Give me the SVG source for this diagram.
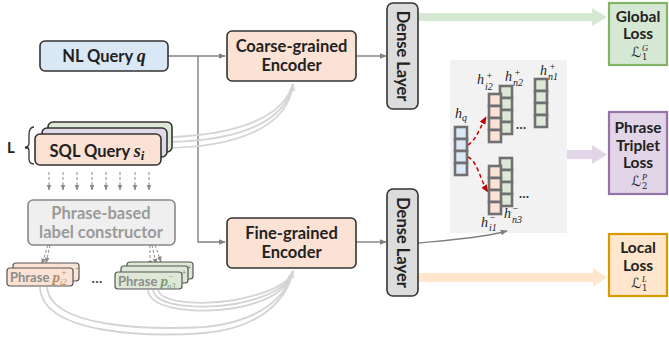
<svg xmlns="http://www.w3.org/2000/svg" width="669" height="339" viewBox="0 0 669 339">
<defs>
<style>
.box{stroke:#333;stroke-width:1.6}
.t{font-family:Lato,"Liberation Sans",sans-serif;font-weight:bold;fill:#222;text-anchor:middle}
.m{font-family:"Liberation Serif","DejaVu Serif",serif;font-style:italic}
.cal{font-family:"DejaVu Serif","DejaVu Sans",serif;fill:#222}
.cell{stroke:#707070;stroke-width:2.6}
.conn{fill:none;stroke:#808080;stroke-width:1.4}
.lg{fill:none;stroke:#d4d4d4;stroke-width:1.8}
.dash{fill:none;stroke:#8a8a8a;stroke-width:1;stroke-dasharray:3,2}
.pt{font-family:Lato,"Liberation Sans",sans-serif;font-weight:bold;fill:#8c8c8c;font-size:13px}
</style>
<marker id="ag" viewBox="0 0 10 10" refX="9" refY="5" markerWidth="7" markerHeight="7" orient="auto" markerUnits="userSpaceOnUse"><path d="M0,1 L10,5 L0,9 Z" fill="#808080"/></marker>
<marker id="al" viewBox="0 0 10 10" refX="9" refY="5" markerWidth="8" markerHeight="8" orient="auto" markerUnits="userSpaceOnUse"><path d="M0,1 L10,5 L0,9 Z" fill="#d4d4d4"/></marker>
<marker id="ad" viewBox="0 0 10 10" refX="9" refY="5" markerWidth="6" markerHeight="6" orient="auto" markerUnits="userSpaceOnUse"><path d="M0,1 L10,5 L0,9 Z" fill="#8a8a8a"/></marker>
<marker id="ar" viewBox="0 0 10 10" refX="9" refY="5" markerWidth="8" markerHeight="8" orient="auto" markerUnits="userSpaceOnUse"><path d="M0,1 L10,5 L0,9 Z" fill="#c00000"/></marker>
</defs>
<rect width="669" height="339" fill="#fff"/>

<rect id="panel" x="450" y="60" width="117" height="173" fill="#f2f2f2"/>

<g id="connectors">
<path class="conn" d="M168,56 H225" marker-end="url(#ag)"/>
<path class="conn" d="M198,56 V242 H225" marker-end="url(#ag)"/>
<path class="conn" d="M356,56 H386" marker-end="url(#ag)"/>
<path class="conn" d="M356,242 H386" marker-end="url(#ag)"/>
<path class="conn" d="M418,243 C450,240 480,238 507,231" marker-end="url(#ag)"/>
<path class="lg" d="M172,137 C235,134 282,120 293,84"/>
<path class="lg" d="M167,142 C235,141 285,124 293,84"/>
<path class="lg" d="M161,148 C235,148 288,128 293,84" marker-end="url(#al)"/>
<path class="lg" d="M40,287 C42,335 150,337 205,333 C260,328 287,300 293,271"/>
<path class="lg" d="M47,287 C50,328 150,330 205,327 C258,322 286,298 293,271"/>
<path class="lg" d="M148,290 C150,312 205,313 235,308 C268,302 288,290 293,271"/>
<path class="lg" d="M153,290 C156,308 205,309 235,304 C266,298 288,288 293,271"/>
<path class="lg" d="M158,290 C162,304 205,305 235,300 C264,294 288,286 293,271" marker-end="url(#al)"/>
<path class="dash" d="M49,172 V190" marker-end="url(#ad)"/>
<path class="dash" d="M63,172 V190" marker-end="url(#ad)"/>
<path class="dash" d="M77,172 V190" marker-end="url(#ad)"/>
<path class="dash" d="M92,172 V190" marker-end="url(#ad)"/>
<path class="dash" d="M106,172 V190" marker-end="url(#ad)"/>
<path class="dash" d="M120,172 V190" marker-end="url(#ad)"/>
<path class="dash" d="M135,172 V190" marker-end="url(#ad)"/>
<path class="dash" d="M149,172 V190" marker-end="url(#ad)"/>
<path class="dash" d="M48,245 L42,264" marker-end="url(#ad)"/>
<path class="dash" d="M50,245 L46,263" marker-end="url(#ad)"/>
<path class="dash" d="M150,245 L150,266" marker-end="url(#ad)"/>
<path class="dash" d="M152,245 L156,264" marker-end="url(#ad)"/>
<path class="dash" d="M155,245 L161,262" marker-end="url(#ad)"/>
<path d="M468,145 C476,140 480,128 486,117" fill="none" stroke="#c00000" stroke-width="1.5" stroke-dasharray="4,3" marker-end="url(#ar)"/>
<path d="M468,157 C478,162 480,180 488,192" fill="none" stroke="#c00000" stroke-width="1.5" stroke-dasharray="4,3" marker-end="url(#ar)"/>
<polygon points="418,13 592,13 592,8 607,17 592,26 592,21 418,21" fill="#d5e8d4"/>
<polygon points="567,150 592,150 592,145 607,154.5 592,164 592,159 567,159" fill="#e1d5e7"/>
<polygon points="418,273 593,273 593,268 607,277.5 593,287 593,282 418,282" fill="#ffe6cc"/>
</g>

<g id="nl-query">
<rect class="box" x="40" y="41" width="128" height="30" rx="5" fill="#dae8f6"/>
<text class="t" x="104" y="62" font-size="16.5">NL Query <tspan class="m" font-size="18">q</tspan></text>
</g>

<g id="sql-query">
<text class="t" x="11" y="153" font-size="15">L</text>
<path d="M25,148 H29 M34,127 Q29,127 29,135 V143 Q29,147 25,147 Q29,147 29,151 V159 Q29,164 34,164" fill="none" stroke="#333" stroke-width="1.3"/>
<rect class="box" x="48" y="122" width="124" height="30" rx="5" fill="#dde8d6"/>
<rect class="box" x="42" y="128" width="125" height="29" rx="5" fill="#e1d9ea"/>
<rect class="box" x="35" y="134" width="126" height="31" rx="5" fill="#fbe2d4"/>
<text class="t" x="97" y="157" font-size="16.5">SQL Query <tspan class="m" font-size="18">s</tspan><tspan class="m" font-size="13" dy="3">i</tspan></text>
</g>

<g id="constructor">
<rect x="28" y="200" width="147" height="45" rx="5" fill="#efefef" stroke="#888" stroke-width="1.6"/>
<text class="t" x="101" y="219" font-size="16.5" style="fill:#9a9a9a">Phrase-based</text>
<text class="t" x="101" y="238" font-size="16.5" style="fill:#9a9a9a">label constructor</text>
</g>

<g id="phrase-left">
<rect x="13" y="263" width="66" height="18" rx="3" fill="#fbe2d4" stroke="#555" stroke-width="1.2"/>
<text class="pt" x="75" y="271" style="font-size:7px">−</text>
<rect x="7" y="268" width="66" height="18" rx="3" fill="#fbe2d4" stroke="#555" stroke-width="1.2"/>
<text class="pt" x="10" y="282">Phrase <tspan class="m" font-size="15" fill="#b08a70">p</tspan></text>
<text class="m" x="61" y="275" font-size="8.5" fill="#b08a70">+</text>
<text class="m" x="60" y="285" font-size="8.5" fill="#b08a70">i2</text>
</g>

<text class="t" x="97" y="283" font-size="14" style="fill:#444">…</text>

<g id="phrase-right">
<rect x="127" y="262" width="66" height="17" rx="3" fill="#dde8d6" stroke="#555" stroke-width="1.2"/>
<text class="pt" x="187" y="270" style="font-size:7px">+</text>
<rect x="121" y="266" width="67" height="17" rx="3" fill="#dde8d6" stroke="#555" stroke-width="1.2"/>
<text class="pt" x="182" y="275" style="font-size:7px">+</text>
<rect x="115" y="272" width="67" height="17" rx="3" fill="#dde8d6" stroke="#555" stroke-width="1.2"/>
<text class="pt" x="118" y="286">Phrase <tspan class="m" font-size="15" fill="#7f9a78">p</tspan></text>
<text class="m" x="168" y="279" font-size="8.5" fill="#7f9a78">−</text>
<text class="m" x="167" y="289" font-size="8.5" fill="#7f9a78">n3</text>
</g>

<g id="coarse-encoder">
<rect class="box" x="227" y="31" width="129" height="50" rx="5" fill="#fbe2d4"/>
<text class="t" x="291.5" y="52" font-size="16.5">Coarse-grained</text>
<text class="t" x="291.5" y="71" font-size="16.5">Encoder</text>
</g>

<g id="fine-encoder">
<rect class="box" x="227" y="218" width="129" height="50" rx="5" fill="#fbe2d4"/>
<text class="t" x="291.5" y="239" font-size="16.5">Fine-grained</text>
<text class="t" x="291.5" y="258" font-size="16.5">Encoder</text>
</g>

<g id="dense-1">
<rect class="box" x="387" y="3" width="31" height="106" rx="6" fill="#dcdcdc"/>
<text class="t" font-size="16.5" transform="translate(396.5,56) rotate(90)">Dense Layer</text>
</g>

<g id="dense-2">
<rect class="box" x="387" y="189" width="31" height="107" rx="6" fill="#dcdcdc"/>
<text class="t" font-size="16.5" transform="translate(396.5,242.5) rotate(90)">Dense Layer</text>
</g>

<g id="hq">
<rect class="cell" x="455" y="127" width="12" height="12" fill="#dae8f6"/>
<rect class="cell" x="455" y="139" width="12" height="12" fill="#dae8f6"/>
<rect class="cell" x="455" y="151" width="12" height="12" fill="#dae8f6"/>
<rect class="cell" x="455" y="163" width="12" height="12" fill="#dae8f6"/>
<text class="m" x="455" y="118" font-size="14" fill="#222">h<tspan font-size="10" dy="3">q</tspan></text>
</g>

<g id="h-pos">
<rect class="cell" x="500" y="86" width="12" height="12" fill="#dde8d6"/>
<rect class="cell" x="500" y="98" width="12" height="12" fill="#dde8d6"/>
<rect class="cell" x="500" y="110" width="12" height="12" fill="#dde8d6"/>
<rect class="cell" x="500" y="122" width="12" height="12" fill="#dde8d6"/>
<rect class="cell" x="489" y="94" width="12" height="12" fill="#fbe2d4"/>
<rect class="cell" x="489" y="106" width="12" height="12" fill="#fbe2d4"/>
<rect class="cell" x="489" y="118" width="12" height="12" fill="#fbe2d4"/>
<rect class="cell" x="489" y="130" width="12" height="12" fill="#fbe2d4"/>
<rect class="cell" x="535" y="79" width="12" height="12" fill="#dde8d6"/>
<rect class="cell" x="535" y="91" width="12" height="12" fill="#dde8d6"/>
<rect class="cell" x="535" y="103" width="12" height="12" fill="#dde8d6"/>
<rect class="cell" x="535" y="115" width="12" height="12" fill="#dde8d6"/>
<text class="t" x="521" y="129" font-size="13" style="fill:#333">…</text>
<text class="m" x="477" y="84" font-size="14" fill="#222">h</text>
<text class="m" x="486" y="79" font-size="10" fill="#222">+</text>
<text class="m" x="485" y="90" font-size="10" fill="#222">i2</text>
<text class="m" x="505" y="81" font-size="14" fill="#222">h</text>
<text class="m" x="514" y="76" font-size="10" fill="#222">+</text>
<text class="m" x="513" y="86" font-size="10" fill="#222">n2</text>
<text class="m" x="540" y="75" font-size="14" fill="#222">h</text>
<text class="m" x="549" y="70" font-size="10" fill="#222">+</text>
<text class="m" x="548" y="80" font-size="10" fill="#222">n1</text>
</g>

<g id="h-neg">
<rect class="cell" x="500" y="158" width="12" height="12" fill="#dde8d6"/>
<rect class="cell" x="500" y="170" width="12" height="12" fill="#dde8d6"/>
<rect class="cell" x="500" y="182" width="12" height="12" fill="#dde8d6"/>
<rect class="cell" x="500" y="194" width="12" height="12" fill="#dde8d6"/>
<rect class="cell" x="489" y="166" width="12" height="12" fill="#fbe2d4"/>
<rect class="cell" x="489" y="178" width="12" height="12" fill="#fbe2d4"/>
<rect class="cell" x="489" y="190" width="12" height="12" fill="#fbe2d4"/>
<rect class="cell" x="489" y="202" width="12" height="12" fill="#fbe2d4"/>
<text class="t" x="524" y="198" font-size="13" style="fill:#333">…</text>
<text class="m" x="481" y="227" font-size="14" fill="#222">h</text>
<text class="m" x="489" y="221" font-size="10" fill="#222">−</text>
<text class="m" x="489" y="231" font-size="10" fill="#222">i1</text>
<text class="m" x="504" y="218" font-size="14" fill="#222">h</text>
<text class="m" x="512" y="212" font-size="10" fill="#222">−</text>
<text class="m" x="512" y="223" font-size="10" fill="#222">n3</text>
</g>

<g id="global-loss">
<rect x="609" y="3" width="58" height="62" fill="#d5e8d4" stroke="#82b366" stroke-width="2.2"/>
<text class="t" x="638" y="22" font-size="15.5">Global</text>
<text class="t" x="638" y="39" font-size="15.5">Loss</text>
<text class="cal" x="631" y="57" font-size="14">ℒ</text>
<text class="m" x="642" y="51" font-size="8.5" fill="#222">G</text>
<text class="cal" x="642" y="60" font-size="8.5">1</text>
</g>

<g id="triplet-loss">
<rect x="609" y="112" width="58" height="82" fill="#e1d5e7" stroke="#9673a6" stroke-width="2.2"/>
<text class="t" x="638" y="133" font-size="15.5">Phrase</text>
<text class="t" x="638" y="151" font-size="15.5">Triplet</text>
<text class="t" x="638" y="168" font-size="15.5">Loss</text>
<text class="cal" x="631" y="186" font-size="14">ℒ</text>
<text class="m" x="642" y="180" font-size="8.5" fill="#222">P</text>
<text class="cal" x="642" y="189" font-size="8.5">2</text>
</g>

<g id="local-loss">
<rect x="609" y="234" width="58" height="62" fill="#ffe6cc" stroke="#d79b00" stroke-width="2.2"/>
<text class="t" x="638" y="253" font-size="15.5">Local</text>
<text class="t" x="638" y="271" font-size="15.5">Loss</text>
<text class="cal" x="631" y="288" font-size="14">ℒ</text>
<text class="m" x="642" y="282" font-size="8.5" fill="#222">L</text>
<text class="cal" x="642" y="291" font-size="8.5">1</text>
</g>
</svg>
